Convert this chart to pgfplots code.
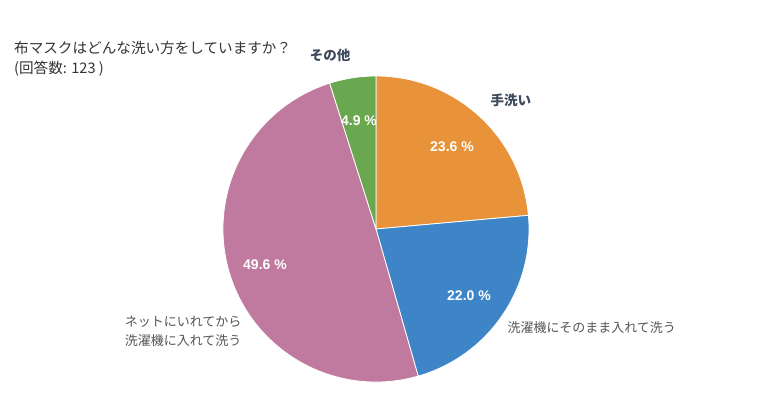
\documentclass[border=0pt]{standalone}
\usepackage{fontspec}
\setmainfont{Noto Sans CJK JP}
\newfontfamily\numfont{Liberation Sans}
\usepackage{pgfplots}
\usepackage{pgfplotstable}
\pgfplotsset{compat=1.18}
\definecolor{cA}{RGB}{232,146,58}
\definecolor{cB}{RGB}{62,133,200}
\definecolor{cC}{RGB}{192,122,160}
\definecolor{cD}{RGB}{106,168,79}
\definecolor{labdark}{RGB}{62,74,92}
\definecolor{labgray}{RGB}{85,85,85}
\definecolor{titlec}{RGB}{51,51,51}

\pgfplotstableread{
idx value
0 23.6
1 22.0
2 49.6
3 4.9
}\piedata

\pgfplotstablegetelem{0}{value}\of\piedata \let\vA\pgfplotsretval
\pgfplotstablegetelem{1}{value}\of\piedata \let\vB\pgfplotsretval
\pgfplotstablegetelem{2}{value}\of\piedata \let\vC\pgfplotsretval
\pgfplotstablegetelem{3}{value}\of\piedata \let\vD\pgfplotsretval
\pgfmathsetmacro{\vT}{\vA+\vB+\vC+\vD}
\pgfmathsetmacro{\sA}{90}
\pgfmathsetmacro{\eA}{\sA-\vA/\vT*360}
\pgfmathsetmacro{\eB}{\eA-\vB/\vT*360}
\pgfmathsetmacro{\eC}{\eB-\vC/\vT*360}
\pgfmathsetmacro{\eD}{-270}

\begin{document}
\begin{tikzpicture}
\begin{axis}[x=1bp,y=1bp,xmin=0,xmax=780,ymin=0,ymax=410,hide axis,clip=false,scale only axis]
\path (axis cs:0,0) rectangle (axis cs:780,410);
\fill[cA,draw=white,line width=0.8pt] (axis cs:376,181) -- ([shift={(\sA:153bp)}]axis cs:376,181) arc[start angle=\sA,end angle=\eA,radius=153bp] -- cycle;
\fill[cB,draw=white,line width=0.8pt] (axis cs:376,181) -- ([shift={(\eA:153bp)}]axis cs:376,181) arc[start angle=\eA,end angle=\eB,radius=153bp] -- cycle;
\fill[cC,draw=white,line width=0.8pt] (axis cs:376,181) -- ([shift={(\eB:153bp)}]axis cs:376,181) arc[start angle=\eB,end angle=\eC,radius=153bp] -- cycle;
\fill[cD,draw=white,line width=0.8pt] (axis cs:376,181) -- ([shift={(\eC:153bp)}]axis cs:376,181) arc[start angle=\eC,end angle=\eD,radius=153bp] -- cycle;
% percent labels
\node[white,font=\numfont\bfseries\fontsize{14bp}{16bp}\selectfont] at (axis cs:452,263) {23.6 \%};
\node[white,font=\numfont\bfseries\fontsize{14bp}{16bp}\selectfont] at (axis cs:469,114) {22.0 \%};
\node[white,font=\numfont\bfseries\fontsize{14bp}{16bp}\selectfont] at (axis cs:265,145) {49.6 \%};
\node[white,font=\numfont\bfseries\fontsize{14bp}{16bp}\selectfont] at (axis cs:359,289) {4.9 \%};
% category labels
\node[labdark,font=\bfseries\fontsize{13.5bp}{16bp}\selectfont,anchor=west] at (axis cs:487,310) {手洗い};
\node[labdark,font=\bfseries\fontsize{13.5bp}{16bp}\selectfont] at (axis cs:330,355) {その他};
\node[labgray,font=\fontsize{13bp}{16bp}\selectfont,anchor=west] at (axis cs:504,82) {洗濯機にそのまま入れて洗う};
\node[labgray,font=\fontsize{13bp}{19bp}\selectfont,anchor=east,align=left] at (axis cs:245,79) {ネットにいれてから\\洗濯機に入れて洗う};
% title
\node[titlec,font=\fontsize{14.6bp}{20bp}\selectfont,anchor=north west,align=left,inner sep=0pt] at (axis cs:14,369) {布マスクはどんな洗い方をしていますか？\\(回答数: 123 )};
\end{axis}
\end{tikzpicture}
\end{document}
